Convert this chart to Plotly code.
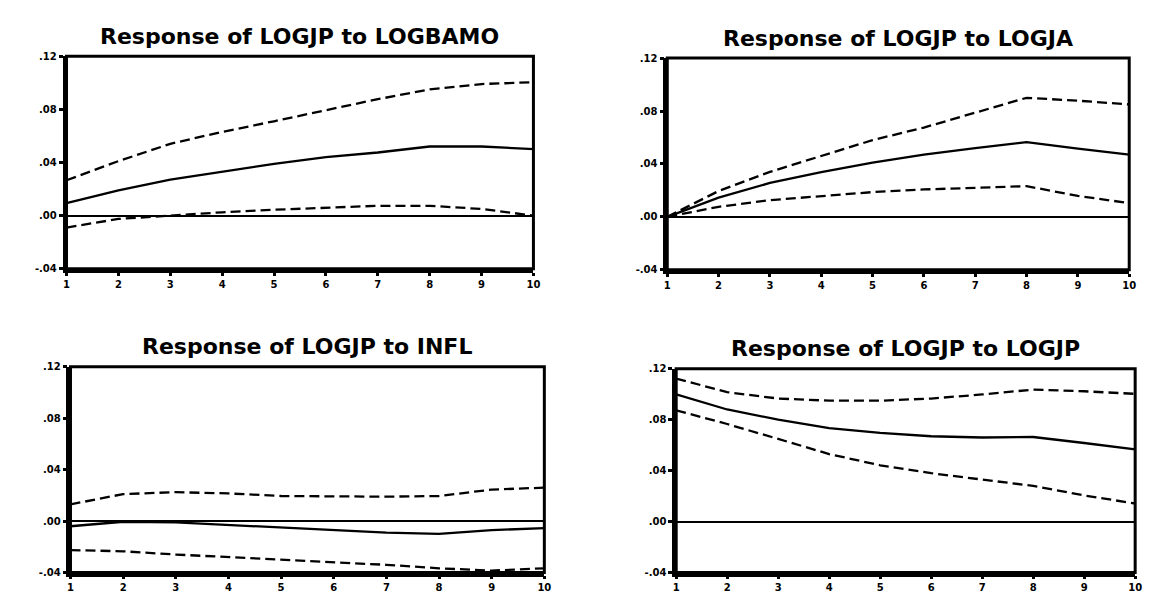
import plotly.graph_objects as go

periods = [1, 2, 3, 4, 5, 6, 7, 8, 9, 10]

titles = [
    "Response of LOGJP to LOGBAMO",
    "Response of LOGJP to LOGJA",
    "Response of LOGJP to INFL",
    "Response of LOGJP to LOGJP",
]

# Response of LOGJP to LOGBAMO
bamo_resp = [0.0094, 0.019, 0.027, 0.033, 0.039, 0.044, 0.0475, 0.052, 0.052, 0.050]
bamo_upper = [0.0266, 0.041, 0.054, 0.063, 0.071, 0.0795, 0.0876, 0.095, 0.099, 0.1004]
bamo_lower = [-0.009, -0.0025, 0.0, 0.0025, 0.0044, 0.006, 0.0074, 0.0074, 0.005, 0.0]

# Response of LOGJP to LOGJA
ja_resp = [0.0, 0.0145, 0.0256, 0.0338, 0.041, 0.047, 0.052, 0.0565, 0.0515, 0.047]
ja_upper = [0.0, 0.0195, 0.034, 0.046, 0.058, 0.0675, 0.0786, 0.090, 0.0878, 0.085]
ja_lower = [0.0, 0.0076, 0.0126, 0.0158, 0.0187, 0.0207, 0.022, 0.0232, 0.0158, 0.0104]

# Response of LOGJP to INFL
infl_resp = [-0.004, -0.0005, -0.001, -0.003, -0.0055, -0.007, -0.009, -0.010, -0.007, -0.0055]
infl_upper = [0.013, 0.021, 0.0225, 0.0215, 0.0195, 0.019, 0.019, 0.0195, 0.0245, 0.026]
infl_lower = [-0.0225, -0.0235, -0.026, -0.028, -0.030, -0.032, -0.034, -0.0367, -0.0385, -0.0367]

# Response of LOGJP to LOGJP
jp_resp = [0.0998, 0.088, 0.080, 0.0734, 0.0696, 0.067, 0.066, 0.0664, 0.0617, 0.0567]
jp_upper = [0.1123, 0.1016, 0.0966, 0.0949, 0.0949, 0.0966, 0.0998, 0.1036, 0.1023, 0.1003]
jp_lower = [0.0874, 0.0766, 0.0649, 0.053, 0.0442, 0.038, 0.033, 0.028, 0.0205, 0.0142]

y_tick_vals = [-0.04, 0.0, 0.04, 0.08, 0.12]
y_tick_text = ["-.04", ".00", ".04", ".08", ".12"]
x_tick_text = ["1", "2", "3", "4", "5", "6", "7", "8", "9", "10"]

panels = [
    (bamo_resp, bamo_upper, bamo_lower),
    (ja_resp, ja_upper, ja_lower),
    (infl_resp, infl_upper, infl_lower),
    (jp_resp, jp_upper, jp_lower),
]

W, H = 1153, 597
# pixel boxes (left, right, top, bottom)
boxes = [
    (56, 527, 43, 260),
    (662, 1128, 45, 261),
    (60, 538, 360, 570),
    (671, 1134, 362, 570),
]

tick_font = dict(family="DejaVu Sans", size=10, color="black", weight="bold")
title_font = dict(family="DejaVu Sans", size=22, color="black", weight="bold")

fig = go.Figure()
layout_axes = {}
annotations = []
shapes = []
for i, ((resp, up, lo), (l, r, t, b)) in enumerate(zip(panels, boxes)):
    n = i + 1
    xa = "x" if n == 1 else f"x{n}"
    ya = "y" if n == 1 else f"y{n}"
    for series, dash in ((up, True), (resp, False), (lo, True)):
        fig.add_trace(go.Scatter(
            x=periods, y=series, mode="lines", xaxis=xa, yaxis=ya,
            line=dict(color="black", width=2.3, dash="10px,5px" if dash else "solid"),
            showlegend=False, hoverinfo="skip",
        ))
    xdom = [l / W, r / W]
    ydom = [1 - b / H, 1 - t / H]
    xkey = "xaxis" if n == 1 else f"xaxis{n}"
    ykey = "yaxis" if n == 1 else f"yaxis{n}"
    layout_axes[xkey] = dict(
        domain=xdom, range=[1, 10], anchor=ya,
        tickvals=periods, ticktext=x_tick_text,
        showline=True, linecolor="black", linewidth=3.5, mirror=False,
        ticks="outside", ticklen=3, tickwidth=2.5, tickcolor="black",
        showgrid=False, zeroline=False, tickfont=tick_font,
    )
    layout_axes[ykey] = dict(
        domain=ydom, range=[-0.04, 0.12], anchor=xa,
        tickvals=y_tick_vals, ticktext=y_tick_text,
        showline=True, linecolor="black", linewidth=3.5, mirror=False,
        ticks="outside", ticklen=4, tickwidth=2.5, tickcolor="black",
        showgrid=False, zeroline=True, zerolinecolor="black", zerolinewidth=1.8,
        tickfont=tick_font,
    )
    shapes.append(dict(
        type="rect", xref=f"{xa} domain", yref=f"{ya} domain",
        x0=0, x1=1, y0=0, y1=1, line=dict(color="black", width=3),
        fillcolor="rgba(0,0,0,0)", layer="above",
    ))
    annotations.append(dict(
        text=titles[i], xref="paper", yref="paper",
        x=(xdom[0] + xdom[1]) / 2, y=ydom[1], xanchor="center",
        yanchor="middle", yshift=20,
        showarrow=False, font=title_font,
    ))

fig.update_layout(
    width=W, height=H,
    margin=dict(l=0, r=0, t=0, b=0),
    paper_bgcolor="white", plot_bgcolor="white",
    annotations=annotations, shapes=shapes,
    **layout_axes,
)

fig.write_html("out.html")
